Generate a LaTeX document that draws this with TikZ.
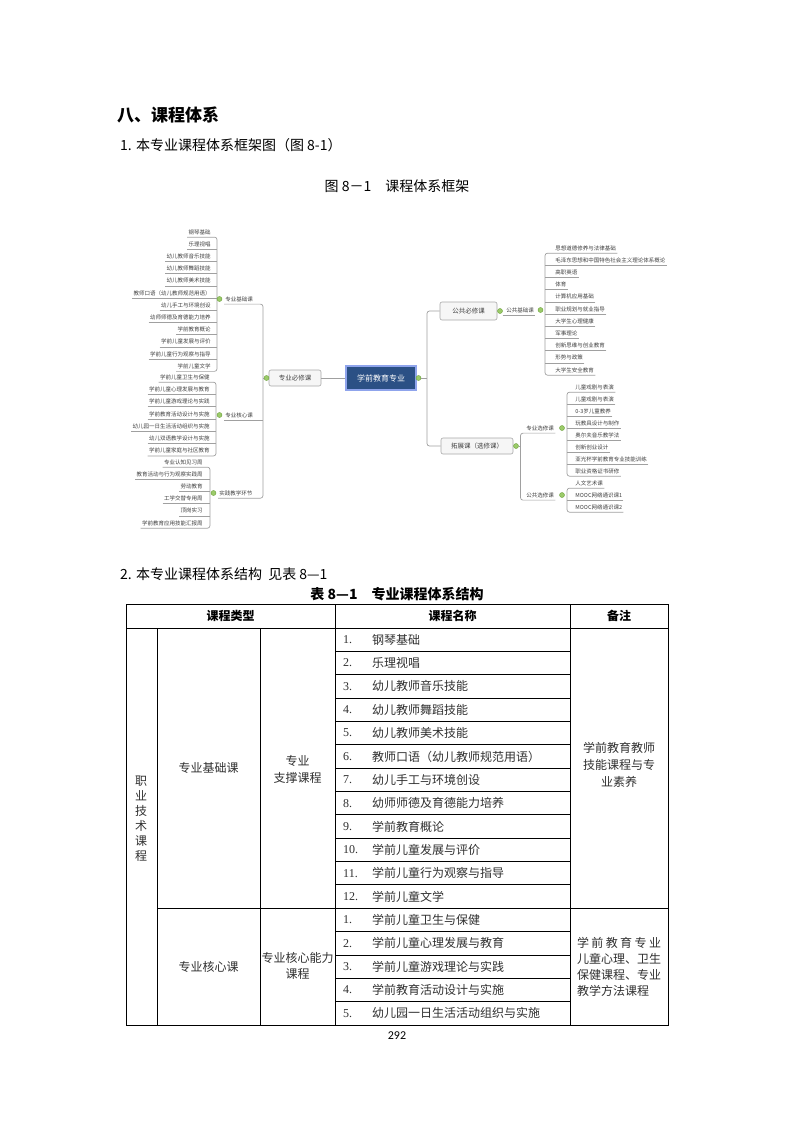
\documentclass[tikz,border=0pt]{standalone}
\usepackage{fontspec}
\setmainfont{Noto Sans CJK SC}
\newfontfamily\pgnumfont{Carlito}
\newfontfamily\numfont{Liberation Serif}
\definecolor{linegray}{HTML}{A0A0A0}
\definecolor{itemtext}{HTML}{404040}
\definecolor{rootfill}{HTML}{2B5085}
\definecolor{rootdraw}{HTML}{8FA4EC}
\definecolor{boxfill}{HTML}{F6F6F6}
\definecolor{boxdraw}{HTML}{A8A8A8}
\definecolor{dotgreen}{HTML}{9CCB6A}
\definecolor{dotdraw}{HTML}{6A9F3A}
\definecolor{celltext}{HTML}{303030}
\begin{document}
\begin{tikzpicture}[x=1pt,y=-1pt,
  mline/.style={draw=linegray,line width=0.7pt},
  litem/.style={font=\fontsize{5.5}{6}\selectfont,text=itemtext,inner xsep=1.2pt,inner ysep=2.4pt},
  mdot/.style={circle,draw=dotdraw,fill=dotgreen,minimum size=5pt,inner sep=0pt,line width=0.4pt},
  mbox/.style={rectangle,rounded corners=2pt,draw=boxdraw,fill=boxfill,line width=0.6pt,font=\fontsize{6.5}{7}\selectfont,text=itemtext,minimum height=16pt,inner xsep=3pt},
  rootbox/.style={rectangle,draw=rootdraw,fill=rootfill,line width=1.2pt,text=white,font=\fontsize{8}{9}\selectfont,minimum width=70pt,minimum height=24pt},
  cell/.style={font=\fontsize{12}{14}\selectfont,text=celltext,inner sep=0pt},
  hcell/.style={font=\fontsize{12}{14}\selectfont\bfseries,inner sep=0pt},
  ptext/.style={font=\fontsize{14}{16}\selectfont,inner sep=0pt},
  tline/.style={draw=black,line width=0.8pt}
]
\fill[white] (0,0) rectangle (793,1122);
\useasboundingbox (0,0) rectangle (793,1122);

% ---------- headings ----------
\node[ptext,font=\fontsize{17}{19}\selectfont\bfseries,anchor=west] (h8) at (117,115) {八、课程体系};
\node[ptext,anchor=west] (h1) at (120,145) {1. 本专业课程体系框架图（图 8-1）};
\node[ptext] (fig) at (397,186) {图 8－1\quad 课程体系框架};

% ---------- mind map: centre ----------
\node[rootbox] (root) at (381,378) {学前教育专业};
\node[mbox,minimum width=52pt] (zbx) at (295,378) {专业必修课};
\node[mdot] (zbxd) at (266.5,378) {};
\draw[mline] (zbx.east) -- (root.west);
\node[mdot] (rootd) at (418.5,378) {};
\coordinate (lbus) at (263,0);
\coordinate (rbus) at (427,0);

% ---------- left: 专业基础课 ----------
\coordinate (bjbus) at (217,0);
\foreach \t [count=\i] in {钢琴基础,乐理视唱,幼儿教师音乐技能,幼儿教师舞蹈技能,幼儿教师美术技能,教师口语（幼儿教师规范用语）,幼儿手工与环境创设,幼师师德及育德能力培养,学前教育概论,学前儿童发展与评价,学前儿童行为观察与指导,学前儿童文学}{
  \node[litem,anchor=east] (bj\i) at (212,{232+12.2*(\i-1)}) {\t};
}
\foreach \i in {2,...,11} \draw[mline] (bj\i.south west) -- (bj\i.south west -| bjbus);
\draw[mline,rounded corners=2.5pt] (bj1.south west) -- (bj1.south west -| bjbus) -- (bj12.south west -| bjbus) -- (bj12.south west);
\node[litem,anchor=west] (pjc) at (224,299) {专业基础课};
\node[mdot] (pjcd) at (219.5,299) {};

% ---------- left: 专业核心课 ----------
\coordinate (hxbus) at (216,0);
\foreach \t [count=\i] in {学前儿童卫生与保健,学前儿童心理发展与教育,学前儿童游戏理论与实践,学前教育活动设计与实施,幼儿园一日生活活动组织与实施,幼儿双语教学设计与实施,学前儿童家庭与社区教育}{
  \node[litem,anchor=east] (hx\i) at (211,{377+12.3*(\i-1)}) {\t};
}
\foreach \i in {2,...,6} \draw[mline] (hx\i.south west) -- (hx\i.south west -| hxbus);
\draw[mline,rounded corners=2.5pt] (hx1.south west) -- (hx1.south west -| hxbus) -- (hx7.south west -| hxbus) -- (hx7.south west);
\node[litem,anchor=west] (phx) at (224,415) {专业核心课};
\node[mdot] (phxd) at (219.5,415) {};

% ---------- left: 实践教学环节 ----------
\coordinate (sjbus) at (210,0);
\foreach \t [count=\i] in {专业认知见习周,教育活动与行为观察实践周,劳动教育,工学交替专用周,顶岗实习,学前教育应用技能汇报周}{
  \node[litem,anchor=east] (sj\i) at (204,{462+12.2*(\i-1)}) {\t};
}
\foreach \i in {2,...,5} \draw[mline] (sj\i.south west) -- (sj\i.south west -| sjbus);
\draw[mline,rounded corners=2.5pt] (sj1.south west) -- (sj1.south west -| sjbus) -- (sj6.south west -| sjbus) -- (sj6.south west);
\node[litem,anchor=west] (psj) at (218,493) {实践教学环节};
\node[mdot] (psjd) at (213.5,493) {};

% left main bus
\draw[mline,rounded corners=2.5pt] (pjc.south west) -- (pjc.south west -| lbus) -- (psj.south west -| lbus) -- (psj.south west);
\draw[mline] (phx.south west) -- (phx.south west -| lbus);
\draw[mline] (zbxd.west) -- (zbxd.west -| lbus);

% ---------- right: 公共必修课 ----------
\node[mbox,minimum width=57pt,minimum height=18pt] (gbx) at (468.5,311) {公共必修课};
\node[mbox,minimum width=72pt] (tzx) at (477,446) {拓展课（选修课）};
\draw[mline] (rootd.east) -- (rootd.east -| rbus);
\draw[mline,rounded corners=2.5pt] (gbx.west) -- (gbx.west -| rbus) -- (tzx.west -| rbus) -- (tzx.west);
\node[mdot] (gbxd) at (500,311) {};
\node[litem,anchor=west] (gjc) at (505,310) {公共基础课};
\node[mdot] (gjcd) at (540.5,310) {};
\draw[mline] (gbxd.east |- gjc.south) -- (gjc.south east);
\coordinate (gjbus) at (545,0);
\foreach \t [count=\i] in {思想道德修养与法律基础,毛泽东思想和中国特色社会主义理论体系概论,高职英语,体育,计算机应用基础,职业规划与就业指导,大学生心理健康,军事理论,创新思维与创业教育,形势与政策,大学生安全教育}{
  \node[litem,anchor=west] (gj\i) at (554,{248+12.2*(\i-1)}) {\t};
}
\foreach \i in {2,...,10} \draw[mline] (gj\i.south east) -- (gj\i.south east -| gjbus);
\draw[mline,rounded corners=2.5pt] (gj1.south east) -- (gj1.south east -| gjbus) -- (gj11.south east -| gjbus) -- (gj11.south east);

% ---------- right: 拓展课 ----------
\node[mdot] (tzxd) at (516,446) {};
\coordinate (tzbus) at (520.5,0);
\node[litem,anchor=west] (zxc) at (525,428) {专业选修课};
\node[litem,anchor=west] (gxc) at (525,495) {公共选修课};
\node[mdot] (zxcd) at (562,428) {};
\node[mdot] (gxcd) at (562,495) {};
\draw[mline] (tzxd.east) -- (tzxd.east -| tzbus);
\draw[mline,rounded corners=2.5pt] (zxc.south east) -- (zxc.south east -| tzbus) -- (gxc.south east -| tzbus) -- (gxc.south east);
\coordinate (xbus) at (567,0);
\foreach \t [count=\i] in {儿童戏剧与表演,儿童戏剧与表演,0-3岁儿童教养,玩教具设计与制作,奥尔夫音乐教学法,创新创业设计,亚光杯学前教育专业技能训练,职业资格证书研修}{
  \node[litem,anchor=west] (zx\i) at (574,{387+12*(\i-1)}) {\t};
}
\foreach \i in {2,...,7} \draw[mline] (zx\i.south east) -- (zx\i.south east -| xbus);
\draw[mline,rounded corners=2.5pt] (zx1.south east) -- (zx1.south east -| xbus) -- (zx8.south east -| xbus) -- (zx8.south east);
\foreach \t [count=\i] in {人文艺术课,MOOC网络通识课1,MOOC网络通识课2}{
  \node[litem,anchor=west] (gx\i) at (574,{483+12*(\i-1)}) {\t};
}
\draw[mline] (gx2.south east) -- (gx2.south east -| xbus);
\draw[mline,rounded corners=2.5pt] (gx1.south east) -- (gx1.south east -| xbus) -- (gx3.south east -| xbus) -- (gx3.south east);

% ---------- section 2 ----------
\node[ptext,anchor=west] (h2) at (120,574) {2. 本专业课程体系结构\ \ 见表 8—1};
\node[ptext,font=\fontsize{14}{16}\selectfont\bfseries] (tcap) at (397,594) {表 8—1\quad 专业课程体系结构};

% ---------- table ----------
\def\rh{23.353}
\draw[tline,line width=1pt] (126,604) rectangle (668,1025);
\draw[tline] (126,628) -- (668,628);
\draw[tline] (157,628) -- (157,1025);
\draw[tline] (260,628) -- (260,1025);
\draw[tline] (335,604) -- (335,1025);
\draw[tline] (570,604) -- (570,1025);
\draw[tline] (157,{628+12*\rh}) -- (668,{628+12*\rh});
\foreach \k in {1,...,11,13,14,15,16} \draw[tline] (335,{628+\k*\rh}) -- (570,{628+\k*\rh});

\node[hcell] (hk1) at (230.5,616) {课程类型};
\node[hcell] (hk2) at (452.5,616) {课程名称};
\node[hcell] (hk3) at (619,616) {备注};

\foreach \t [count=\i] in {钢琴基础,乐理视唱,幼儿教师音乐技能,幼儿教师舞蹈技能,幼儿教师美术技能,教师口语（幼儿教师规范用语）,幼儿手工与环境创设,幼师师德及育德能力培养,学前教育概论,学前儿童发展与评价,学前儿童行为观察与指导,学前儿童文学}{
  \node[cell,anchor=west,font=\fontsize{12}{14}\numfont] (na\i) at (343,{628+\rh*(\i-0.5)}) {\i.};
  \node[cell,anchor=west] (ta\i) at (372,{628+\rh*(\i-0.5)}) {\t};
}
\foreach \t [count=\i] in {学前儿童卫生与保健,学前儿童心理发展与教育,学前儿童游戏理论与实践,学前教育活动设计与实施,幼儿园一日生活活动组织与实施}{
  \node[cell,anchor=west,font=\fontsize{12}{14}\numfont] (nb\i) at (343,{628+\rh*(\i+11.5)}) {\i.};
  \node[cell,anchor=west] (tb\i) at (372,{628+\rh*(\i+11.5)}) {\t};
}

\node[cell,align=center,font=\fontsize{12}{15}\selectfont] (zy) at (141,819) {职\\业\\技\\术\\课\\程};
\node[cell] (jc) at (208.5,768) {专业基础课};
\node[cell,align=center,font=\fontsize{12}{17}\selectfont] (zc) at (297.5,769) {专业\\支撑课程};
\node[cell,align=center,font=\fontsize{12}{17}\selectfont] (bz1) at (619,765) {学前教育教师\\技能课程与专\\业素养};
\node[cell] (hx) at (208.5,967) {专业核心课};
\node[cell,align=center,font=\fontsize{12}{15.5}\selectfont] (hn) at (297.5,966) {专业核心能力\\课程};
\node[cell,align=left,font=\fontsize{12}{16}\selectfont] (bz2) at (619,967) {\makebox[84pt][s]{学\hfill 前\hfill 教\hfill 育\hfill 专\hfill 业}\\儿童心理、卫生\\保健课程、专业\\教学方法课程};

\node[inner sep=0pt,font=\fontsize{12}{13}\pgnumfont] (pg) at (397,1036) {292};
\end{tikzpicture}
\end{document}
